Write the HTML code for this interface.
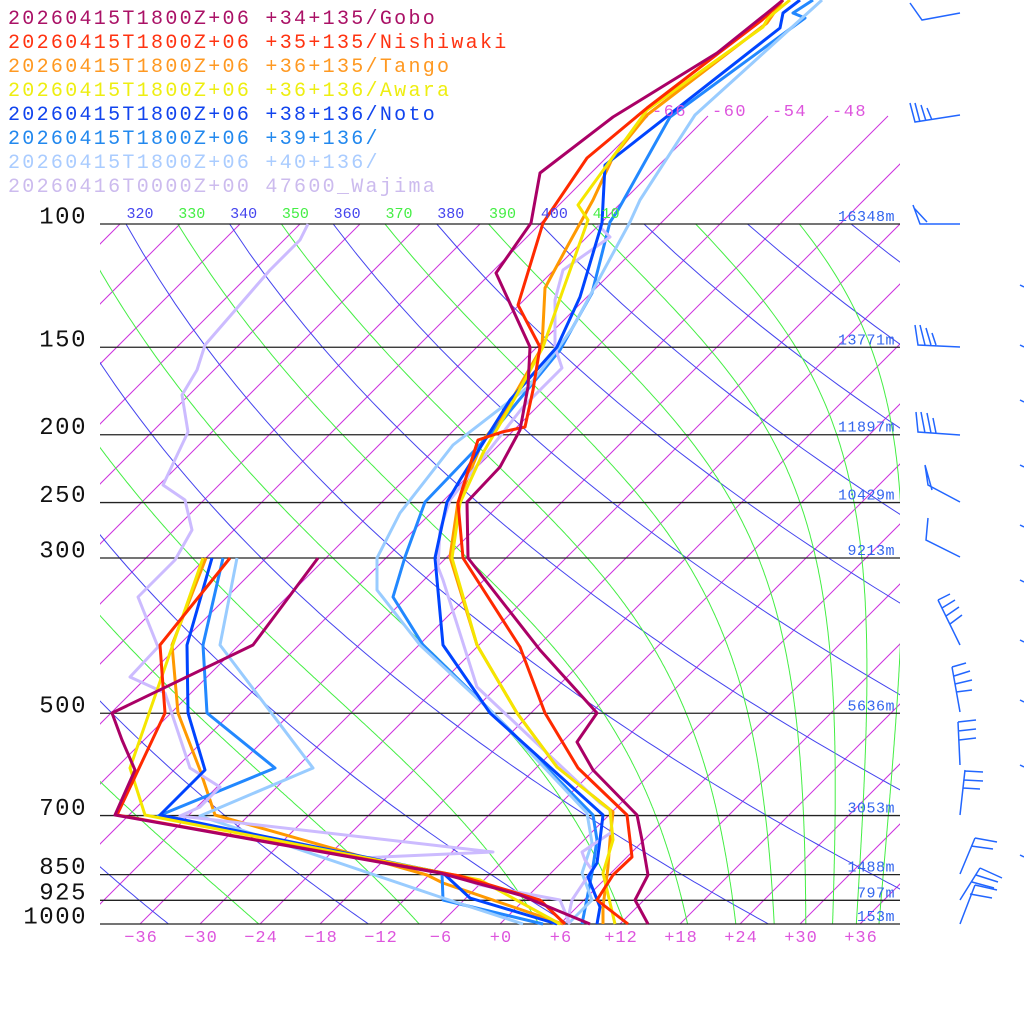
<!DOCTYPE html>
<html><head><meta charset="utf-8"><style>
html,body{margin:0;padding:0;background:#fff;width:1024px;height:1024px;overflow:hidden}
svg{display:block}
.mono{font-family:"Liberation Mono","DejaVu Sans Mono",monospace}
</style></head><body>
<svg id="s" width="1024" height="1024" xmlns="http://www.w3.org/2000/svg">
<defs>
<clipPath id="cb"><rect x="100" y="224" width="800" height="700"/></clipPath>
<clipPath id="ct"><rect x="100" y="100" width="800" height="824"/></clipPath>
</defs>
<g id="grid"></g>
<g id="prof" fill="none" stroke-width="3" stroke-linejoin="round"></g>
<g id="txt"></g>
<g stroke="#2266ff" stroke-width="1.5" fill="none">
<path d="M910,3 L922,20 L960,13"/>
<path d="M910,103 L915,122 L960,115 M915,103 L920,122 M921,105 L926,121 M927,108 L932,120"/>
<path d="M913,205 L920,224 L960,224 M914,208 L927,222"/>
<path d="M915,325 L918,345 L960,347 M920,325 L925,345 M926,328 L931,345 M932,333 L936,345"/>
<path d="M916,412 L918,432 L960,435 M921,412 L925,433 M927,413 L931,433 M933,418 L936,433"/>
<path d="M925,465 L928,485 L960,502 M925,465 L932,490"/>
<path d="M928,518 L926,540 L960,557"/>
<path d="M938,600 L960,645 M938,600 L950,594 M942,608 L955,600 M946,616 L959,607 M950,624 L962,615"/>
<path d="M952,667 L960,712 M952,667 L966,663 M954,676 L970,671 M955,684 L972,680 M956,692 L972,690"/>
<path d="M958,722 L960,765 M958,722 L976,720 M958,731 L976,729 M959,740 L976,738"/>
<path d="M965,770 L960,815 M965,771 L983,772 M964,780 L983,781 M963,788 L980,789"/>
<path d="M975,838 L960,874 M975,838 L997,842 M971,846 L993,849"/>
<path d="M980,868 L960,900 M980,868 L1002,878 M976,875 L998,882 M972,882 L994,888"/>
<path d="M975,885 L960,924 M975,885 L997,890 M970,894 L992,898"/>
</g>
</svg>
<script>
var NS="http://www.w3.org/2000/svg";
function Y(p){return 924-700*Math.log10(1000/p);}
function X(T,y){return 500+10*T+(924-y);}
function el(parent,tag,attrs,text){var e=document.createElementNS(NS,tag);for(var k in attrs)e.setAttribute(k,attrs[k]);if(text!==undefined)e.textContent=text;parent.appendChild(e);return e;}
var grid=document.getElementById('grid'),txt=document.getElementById('txt'),prof=document.getElementById('prof');
var gi=el(grid,'g',{stroke:'#cc33dd','stroke-width':1});
for(var T=-150;T<=36;T+=6){
  var ytop=(T>=-66)?116:224;
  var g2=el(gi,'g',{'clip-path':(T>=-66)?'url(#ct)':'url(#cb)'});
  el(g2,'line',{x1:X(T,924),y1:924,x2:X(T,ytop),y2:ytop});
  if(T>=-66&&T<=-48){el(txt,'text',{x:X(T,116)+4,y:116,fill:'#dd55dd','font-size':17,'class':'mono','letter-spacing':1.5},String(T));}
}
var gb=el(grid,'g',{stroke:'#4444ee','stroke-width':1,fill:'none','clip-path':'url(#cb)'});
for(var th=200;th<=640;th+=20){
  var pts=[];for(var p=100;p<=1000;p+=10){var t=th*Math.pow(p/1000,0.2857)-273.15;var y=Y(p);pts.push(X(t,y).toFixed(1)+','+y.toFixed(1));}
  el(gb,'polyline',{points:pts.join(' ')});
}
function es(Tc){return 6.112*Math.exp(17.67*Tc/(Tc+243.5));}
var gg=el(grid,'g',{stroke:'#44ee44','stroke-width':1,fill:'none','clip-path':'url(#cb)'});
for(var th=230;th<=570;th+=20){
  var TK=th*Math.pow(0.1,0.2857);var pts=[];
  for(var p=100;p<=1000;p+=2){
    var y=Y(p);pts.push(X(TK-273.15,y).toFixed(1)+','+y.toFixed(1));
    var e=es(TK-273.15);if(e>p*0.5)e=p*0.5;var rs=0.622*e/(p-e);
    var dTdp=(287*TK+2.5e6*rs)/(1005+2.5e6*2.5e6*rs*0.622/(287*TK*TK))/p;
    TK+=dTdp*2;
  }
  el(gg,'polyline',{points:pts.join(' ')});
}
for(var th=320;th<=410;th+=10){
  var t=th*Math.pow(0.1,0.2857)-273.15;var x=X(t,224)+14;
  el(txt,'text',{x:x,y:218,fill:(th%20==0)?'#4444ee':'#44ee44','font-size':15,'text-anchor':'middle','class':'mono'},String(th));
}
var P=[[100,'16348m'],[150,'13771m'],[200,'11897m'],[250,'10429m'],[300,'9213m'],[500,'5636m'],[700,'3053m'],[850,'1488m'],[925,'797m'],[1000,'153m']];
P.forEach(function(a){var y=Y(a[0]);
  el(grid,'line',{x1:100,x2:900,y1:y,y2:y,stroke:'#222','stroke-width':1.3});
  el(txt,'text',{x:87,y:y-7,fill:'#111','font-size':24,'text-anchor':'end','class':'mono','letter-spacing':1.5,'dominant-baseline':'middle'},String(a[0]));
  el(txt,'text',{x:895,y:y-3,fill:'#3366ee','font-size':15,'text-anchor':'end','class':'mono','letter-spacing':0.5},a[1]);
});
for(var T=-36;T<=36;T+=6){el(txt,'text',{x:500+10*T+1,y:942,fill:'#dd55dd','font-size':17,'text-anchor':'middle','class':'mono','letter-spacing':1},(T<0?'\u2212'+(-T):'+'+T));}
var S=[
['#ff9900',"783,0 767,23 647,115 613,157 593,200 567,247 545,288 542,347 500,420 483,440 458,502 450,557 477,645 517,713 557,767 613,812 610,840 608,867 603,907 603,924","206,558 172,645 178,713 200,770 215,815 427,875 443,883 563,924"],
['#2288ff',"813,0 793,13 805,18 670,117 618,210 610,222 592,293 560,350 497,427 425,502 405,557 393,597 423,645 493,713 593,815 597,840 592,873 582,924","223,558 203,645 207,713 275,768 158,816 442,873 443,900 543,924"],
['#99ccff',"822,0 695,115 640,200 630,222 573,327 557,350 528,387 453,445 400,513 377,558 377,590 420,645 493,713 587,813 592,843 582,873 592,900 568,924","237,558 220,645 313,768 200,816 443,898 523,924"],
['#ccbbff',"598,225 610,237 563,270 555,300 555,347 562,368 523,407 450,500 440,530 438,567 443,580 477,687 600,803 610,810 612,832 582,852 585,860 592,870 572,900 567,923","308,224 300,240 270,270 205,345 197,370 182,395 188,432 163,485 185,500 192,530 175,560 155,580 138,597 158,647 130,677 165,693 190,768 220,787 200,807 180,816 493,852 360,858 445,873 480,885 560,900 570,924"],
['#0044ff',"800,0 783,13 780,28 605,165 602,223 580,297 557,347 510,400 460,480 447,502 435,558 443,645 490,713 603,815 600,840 597,863 588,877 600,907 597,924","212,558 187,645 188,713 205,770 160,815 443,873 470,898 557,924"],
['#f5e600',"790,0 768,18 763,27 647,110 578,205 588,220 563,290 543,347 510,407 483,453 460,503 452,558 477,645 517,713 557,767 610,810 613,840 603,873 615,924","203,558 130,768 145,815 480,880 560,924"],
['#ff2a00',"783,0 762,20 720,52 647,108 587,158 543,223 518,305 540,347 533,390 525,427 502,432 478,440 463,487 458,503 463,558 520,647 545,713 578,768 627,815 630,840 632,857 613,875 597,900 628,924","230,558 160,645 165,713 117,815 460,876 540,900 565,924"],
['#aa0066',"783,0 767,13 717,53 613,117 540,173 531,223 496,273 530,347 528,387 520,430 500,467 467,502 468,558 540,650 597,713 577,742 593,770 637,815 642,840 648,875 635,900 648,924","318,558 253,645 112,713 122,740 135,770 115,815 440,873 520,895 590,924"]
];
S.forEach(function(s){el(prof,'polyline',{points:s[1],stroke:s[0]});el(prof,'polyline',{points:s[2],stroke:s[0]});});
var L=[['#aa1166','20260415T1800Z+06 +34+135/Gobo'],['#ff3311','20260415T1800Z+06 +35+135/Nishiwaki'],['#ff9922','20260415T1800Z+06 +36+135/Tango'],['#eeee11','20260415T1800Z+06 +36+136/Awara'],['#1144ee','20260415T1800Z+06 +38+136/Noto'],['#2288ee','20260415T1800Z+06 +39+136/'],['#aaccff','20260415T1800Z+06 +40+136/'],['#ccbbee','20260416T0000Z+00 47600_Wajima']];
L.forEach(function(a,i){el(txt,'text',{x:8,y:24+24*i,fill:a[0],'font-size':20,'class':'mono','letter-spacing':2.3,'xml:space':'preserve'},a[1]);});
var wg=el(grid,'g',{stroke:'#2266ff','stroke-width':1.5});
[285,345,400,465,525,580,640,700,765,855].forEach(function(y){el(wg,'line',{x1:1020,x2:1024,y1:y,y2:y+2});});
</script>
</body></html>
